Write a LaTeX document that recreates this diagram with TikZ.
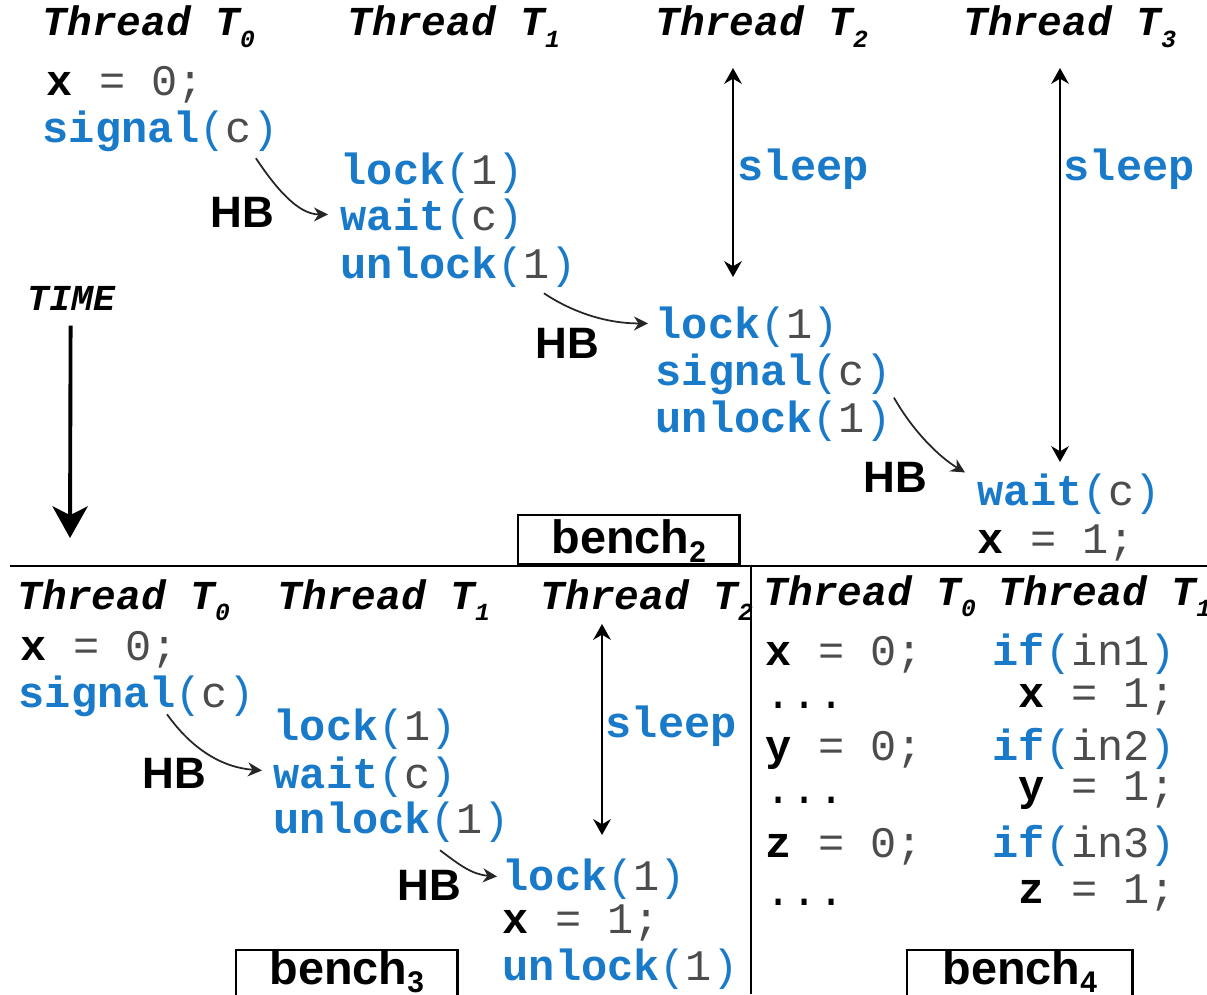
\documentclass[tikz,border=0pt]{standalone}
\usepackage{fontspec}
\usetikzlibrary{arrows.meta,calc}
\newfontfamily\codefont{Liberation Mono}
\newfontfamily\hbfont{Liberation Sans}
\definecolor{codeblue}{RGB}{24,122,200}
\newcommand{\kw}[1]{\textcolor{codeblue}{\bfseries #1}}
\newcommand{\args}[1]{\textcolor{codeblue}{(}\textcolor{black!70}{#1}\textcolor{codeblue}{)}}
\newcommand{\asg}[2]{\textbf{#1} \textcolor{black!70}{= #2;}}
\newcommand{\tsub}[1]{\raisebox{-3.4pt}{\fontsize{7}{7}\selectfont #1}}
\newcommand{\bsub}[1]{\raisebox{-2.5pt}{\fontsize{8.5}{8.5}\selectfont #1}}
\tikzset{
  code/.style={anchor=base west, inner sep=0pt, text height=9pt, text depth=3pt, font=\codefont\fontsize{12.4}{14}\selectfont},
  head/.style={anchor=base west, inner sep=0pt, font=\codefont\fontsize{11.7}{14}\selectfont\bfseries\itshape},
  timelbl/.style={anchor=base west, inner sep=0pt, font=\codefont\fontsize{10.4}{12}\selectfont\bfseries\itshape},
  hb/.style={anchor=base west, inner sep=0pt, font=\hbfont\fontsize{12.5}{14}\selectfont\bfseries},
  benchbox/.style={draw, line width=0.7pt, anchor=north west, inner sep=0pt, font=\hbfont\fontsize{13.3}{15}\selectfont\bfseries},
  hbarrow/.style={-{Stealth[length=4pt,width=4pt]}, line width=0.5pt, black!85},
  sleeparrow/.style={{Stealth[length=4.5pt,width=5pt]}-{Stealth[length=4.5pt,width=5pt]}, line width=0.7pt},
  timearrow/.style={-{Stealth[length=9pt,width=10pt,inset=2.5pt]}, line width=1.1pt}
}
\begin{document}
\begin{tikzpicture}[x=0.01cm, y=-0.01cm]
    \useasboundingbox (0,0) rectangle (1207,994);
    \clip (0,0) rectangle (1207,994);

    % bench 2
    \node[head] (hA) at (42,36) {Thread T\tsub{0}};
    \node[head] (hB) at (347,36) {Thread T\tsub{1}};
    \node[head] (hC) at (655,36) {Thread T\tsub{2}};
    \node[head] (hD) at (963,36) {Thread T\tsub{3}};

    \node[code] (xA) at (46,96) {\asg{x}{0}};
    \node[code] (sigA) at (42,143) {\kw{signal}\args{c}};

    \node[code] (lockB) at (340,184) {\kw{lock}\args{1}};
    \node[code] (waitB) at (340,230) {\kw{wait}\args{c}};
    \node[code] (unlB) at (340,278) {\kw{unlock}\args{1}};
    \node[hb] (hbA) at (210,227) {HB};

    \node[code] (slpC) at (737,180) {\kw{sleep}};
    \node[code] (lockC) at (655,338) {\kw{lock}\args{1}};
    \node[code] (sigC) at (655,385) {\kw{signal}\args{c}};
    \node[code] (unlC) at (655,432) {\kw{unlock}\args{1}};
    \node[hb] (hbB) at (535,358) {HB};

    \node[code] (slpD) at (1063,180) {\kw{sleep}};
    \node[code] (waitD) at (977,505) {\kw{wait}\args{c}};
    \node[code] (xD) at (977,553) {\asg{x}{1}};
    \node[hb] (hbC) at (863,492) {HB};

    \node[timelbl] (time) at (27,310) {TIME};
    \node[benchbox, minimum width=2.21cm, text height=10.8pt, text depth=3.1pt] (benchA) at (517,514) {bench\bsub{2}};

    \coordinate (slpCtop) at (733,68);
    \coordinate (slpCbot) at (733,277);
    \coordinate (slpDtop) at (1060,68);
    \coordinate (slpDbot) at (1060,462);
    \coordinate (timeend) at (70,538);

    \draw[hbarrow] ($(sigA.south east)+(-23,4)$) .. controls +(20,30) and +(-30,0) .. ($(waitB.west)+(-12,-5)$);
    \draw[hbarrow] ($(unlB.south east)+(-33,4)$) .. controls +(30,20) and +(-40,0) .. ($(lockC.west)+(-7,-4)$);
    \draw[hbarrow] ($(unlC.north east)+(2,-2)$) .. controls +(20,35) and +(-25,-15) .. ($(waitD.west)+(-12,-22)$);
    \draw[sleeparrow] (slpCtop) -- (slpCbot);
    \draw[sleeparrow] (slpDtop) -- (slpDbot);
    \draw[timearrow] ($(time.south)+(-1,15)$) -- (timeend);

    \draw[line width=0.8pt] (10,566) -- (1207,566);
    \draw[line width=0.8pt] (751,566) -- (751,994);

    % bench 3
    \node[head] (hE) at (17,609) {Thread T\tsub{0}};
    \node[head] (hF) at (277,609) {Thread T\tsub{1}};
    \node[head] (hG) at (540,609) {Thread T\tsub{2}};

    \node[code] (xE) at (20,660) {\asg{x}{0}};
    \node[code] (sigE) at (18,707) {\kw{signal}\args{c}};

    \node[code] (lockF) at (273,740) {\kw{lock}\args{1}};
    \node[code] (waitF) at (273,788) {\kw{wait}\args{c}};
    \node[code] (unlF) at (273,833) {\kw{unlock}\args{1}};
    \node[hb] (hbD) at (142,788) {HB};

    \node[code] (slpG) at (605,737) {\kw{sleep}};
    \node[code] (lockG) at (502,890) {\kw{lock}\args{1}};
    \node[code] (xG) at (502,933) {\asg{x}{1}};
    \node[code] (unlG) at (502,980) {\kw{unlock}\args{1}};
    \node[hb] (hbE) at (397,900) {HB};

    \node[benchbox, minimum width=2.21cm, text height=9.6pt, text depth=6pt] (benchB) at (235,949) {bench\bsub{3}};

    \coordinate (slpGtop) at (602,624);
    \coordinate (slpGbot) at (602,835);

    \draw[hbarrow] ($(sigE.south west)+(149,-4)$) .. controls +(25,35) and +(-40,-3) .. ($(waitF.west)+(-11,-7)$);
    \draw[hbarrow] ($(unlF.south west)+(167,6)$) .. controls +(20,15) and +(-25,-2) .. ($(lockG.west)+(-5,-3)$);
    \draw[sleeparrow] (slpGtop) -- (slpGbot);

    % bench 4
    \node[head] (hH) at (763,605) {Thread T\tsub{0}};
    \node[head] (hI) at (998,605) {Thread T\tsub{1}};

    \node[code] (xH) at (765,665) {\asg{x}{0}};
    \node[code] (dotsA) at (765,708) {...};
    \node[code] (yH) at (765,760) {\asg{y}{0}};
    \node[code] (dotsB) at (765,803) {...};
    \node[code] (zH) at (765,857) {\asg{z}{0}};
    \node[code] (dotsC) at (765,905) {...};

    \node[code] (ifA) at (992,665) {\kw{if}\args{in1}};
    \node[code] (xI) at (1018,707) {\asg{x}{1}};
    \node[code] (ifB) at (992,760) {\kw{if}\args{in2}};
    \node[code] (yI) at (1018,800) {\asg{y}{1}};
    \node[code] (ifC) at (992,857) {\kw{if}\args{in3}};
    \node[code] (zI) at (1018,903) {\asg{z}{1}};

    \node[benchbox, minimum width=2.25cm, text height=9.6pt, text depth=6pt] (benchC) at (906,949) {bench\bsub{4}};
\end{tikzpicture}
\end{document}
